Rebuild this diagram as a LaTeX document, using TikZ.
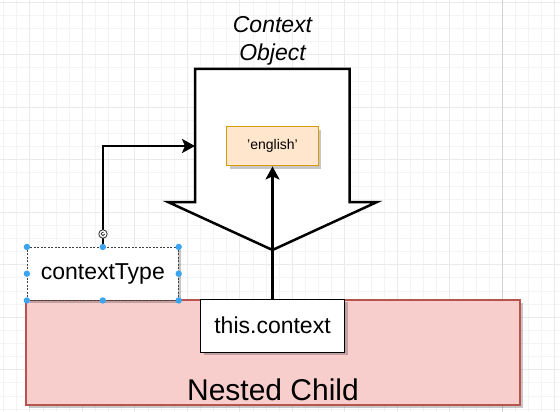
\documentclass[tikz,border=0pt]{standalone}
\usepackage{fontspec}
\setmainfont{Liberation Sans}
\usetikzlibrary{arrows.meta,shadows,calc}

\definecolor{gridminor}{HTML}{F4F4F4}
\definecolor{gridmid}{HTML}{EAEAEA}
\definecolor{pageline}{HTML}{D2D2D2}
\definecolor{childfill}{HTML}{F8CECC}
\definecolor{childline}{HTML}{B85450}
\definecolor{valfill}{HTML}{FFE6CC}
\definecolor{valline}{HTML}{D79B00}
\definecolor{handleblue}{HTML}{3BA4F0}

\tikzset{
  boxshadow/.style={drop shadow={shadow xshift=3pt,shadow yshift=-3pt,fill=black,opacity=0.22}},
  plainbox/.style={boxshadow,draw=black,fill=white,line width=1pt,inner sep=0pt,
    font=\fontsize{23}{27}\selectfont},
  childbox/.style={boxshadow,draw=childline,fill=childfill,line width=1.2pt,inner sep=0pt},
  valuebox/.style={boxshadow,draw=valline,fill=valfill,line width=1pt,inner sep=0pt,
    font=\fontsize{14}{17}\selectfont},
  selbox/.style={boxshadow,draw=black!75,fill=white,line width=0.8pt,dash pattern=on 2pt off 1.5pt,
    inner sep=0pt,font=\fontsize{23}{27}\selectfont},
  handle/.style={fill=handleblue},
  conn/.style={line width=2.5pt,-{Stealth[length=13pt,width=14pt,inset=3pt]}},
  bigarrow/.style={draw=black,fill=white,line width=2.5pt,line join=miter},
}

\begin{document}
\begin{tikzpicture}[x=1pt,y=-1pt]
  % canvas and background grid
  \fill[white] (0,0) rectangle (560,412);
  \useasboundingbox (0,0) rectangle (560,412);
  \foreach \i in {0,...,42}
    \draw[gridminor,line width=0.7pt] ({3.55+13.125*\i},0) -- ({3.55+13.125*\i},412);
  \foreach \j in {0,...,31}
    \draw[gridminor,line width=0.7pt] (0,{2.2+13.125*\j}) -- (560,{2.2+13.125*\j});
  \foreach \i in {0,...,10}
    \draw[gridmid,line width=0.7pt] ({29.8+52.5*\i},0) -- ({29.8+52.5*\i},412);
  \foreach \j in {0,...,7}
    \draw[gridmid,line width=0.7pt] (0,{2.2+52.5*\j}) -- (560,{2.2+52.5*\j});
  \draw[pageline,line width=0.8pt] (502.3,0) -- (502.3,412);

  % outer component
  \node[childbox,minimum width=494pt,minimum height=105pt] (child) at (273,352.5) {};
  \node[font=\fontsize{30}{36}\selectfont,anchor=base] (childname) at (273,400) {Nested Child};

  % context object drawn as a downward block arrow
  \draw[bigarrow] (195,69) -- (349.5,69) -- (349.5,202) -- (377,202) -- (272.5,250)
    -- (168,202) -- (195,202) -- cycle;
  \coordinate (objleft) at (195,146);
  \node[font=\fontsize{23}{28}\selectfont\itshape,align=center] (objname) at (272.5,40.5)
    {Context\\Object};

  % value held by the context
  \node[valuebox,minimum width=91.6pt,minimum height=39.3pt] (eng) at (272.5,146.3) {'english'};

  % consumer inside the child
  \node[plainbox,minimum width=144pt,minimum height=53pt] (thisctx) at (272.5,325.5) {this.context};

  % provider type declaration (selected)
  \node[selbox,minimum width=151pt,minimum height=52.7pt] (ctype) at (102.8,273.7) {contextType};

  % connectors
  \draw[conn] (ctype.north) |- (objleft);
  \draw[conn] (thisctx.north) -- (thisctx.north |- eng.south);

  % selection handles
  \foreach \a in {north west,north,north east,west,east,south west,south,south east}
    \fill[handle] (ctype.\a) circle (3.2);

  % rotation handle
  \coordinate (rot) at (103,234);
  \filldraw[fill=white,draw=black!75,line width=0.9pt] (rot) circle (4.2);
  \draw[black!75,line width=0.8pt] ($(rot)+(1.8,0)$) arc[start angle=0,end angle=290,radius=1.8];
\end{tikzpicture}
\end{document}
